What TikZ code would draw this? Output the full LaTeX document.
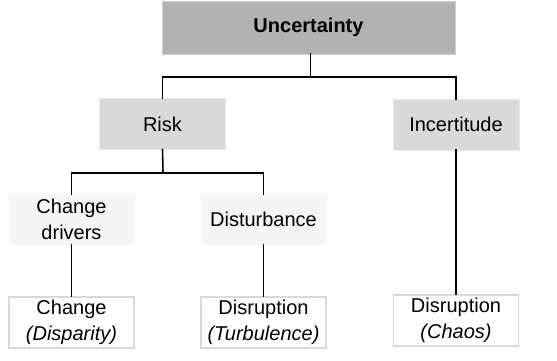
\documentclass[tikz,border=0pt]{standalone}
\usepackage{fontspec}
\setmainfont{Liberation Sans}
\definecolor{topfill}{HTML}{B2B2B2}
\definecolor{topline}{HTML}{CDCDCD}
\definecolor{midfill}{HTML}{D9D9D9}
\definecolor{midline}{HTML}{E9E9E9}
\definecolor{lowfill}{HTML}{F5F5F5}
\definecolor{boxline}{HTML}{D9D9D9}
\tikzset{
  base/.style={inner sep=0pt, align=center, font=\fontsize{20}{26}\selectfont, text=black},
  topbox/.style={base, fill=topfill, draw=topline, line width=0.8pt, minimum width=293pt, minimum height=53pt, font=\fontsize{20}{26}\selectfont\bfseries},
  midbox/.style={base, fill=midfill, draw=midline, line width=0.8pt, minimum width=126pt, minimum height=51pt},
  lowbox/.style={base, fill=lowfill, minimum width=126pt, minimum height=51pt},
  leafbox/.style={base, fill=white, draw=boxline, line width=1.5pt, minimum width=125pt, minimum height=51pt},
  conn/.style={line width=1.6pt, black},
}
\begin{document}
\begin{tikzpicture}[x=1pt,y=-1pt]
\useasboundingbox (0,0) rectangle (557,360);
\node[topbox] (U) at (308.5,27.5) {Uncertainty};
\node[midbox] (R) at (162.5,124) {Risk};
\node[midbox] (I) at (456,124.5) {Incertitude};
\node[lowbox] (CD) at (71.5,219.5) {Change\\drivers};
\node[lowbox] (D) at (263.5,219.5) {Disturbance};
\node[leafbox] (C) at (71.5,322.5) {Change\\\textit{(Disparity)}};
\node[leafbox] (DT) at (263.5,322.5) {Disruption\\\textit{(Turbulence)}};
\node[leafbox] (DC) at (456,320.5) {Disruption\\\textit{(Chaos)}};
\coordinate (j1) at (310.5,77);
\coordinate (j2) at (163,173);
\draw[conn] ([xshift=2pt,yshift=1pt]U.south) -- (j1);
\draw[conn] (j1) -| ([yshift=-1pt]R.north);
\draw[conn] (j1) -| ([yshift=-1pt]I.north);
\draw[conn] ([yshift=1pt]R.south) -- (j2);
\draw[conn] (j2) -| ([yshift=-1pt]CD.north);
\draw[conn] (j2) -| ([yshift=-1pt]D.north);
\draw[conn] ([yshift=1pt]CD.south) -- ([yshift=-1pt]C.north);
\draw[conn] ([yshift=1pt]D.south) -- ([yshift=-1pt]DT.north);
\draw[conn] ([yshift=1pt]I.south) -- ([yshift=-1pt]DC.north);
\end{tikzpicture}
\end{document}
